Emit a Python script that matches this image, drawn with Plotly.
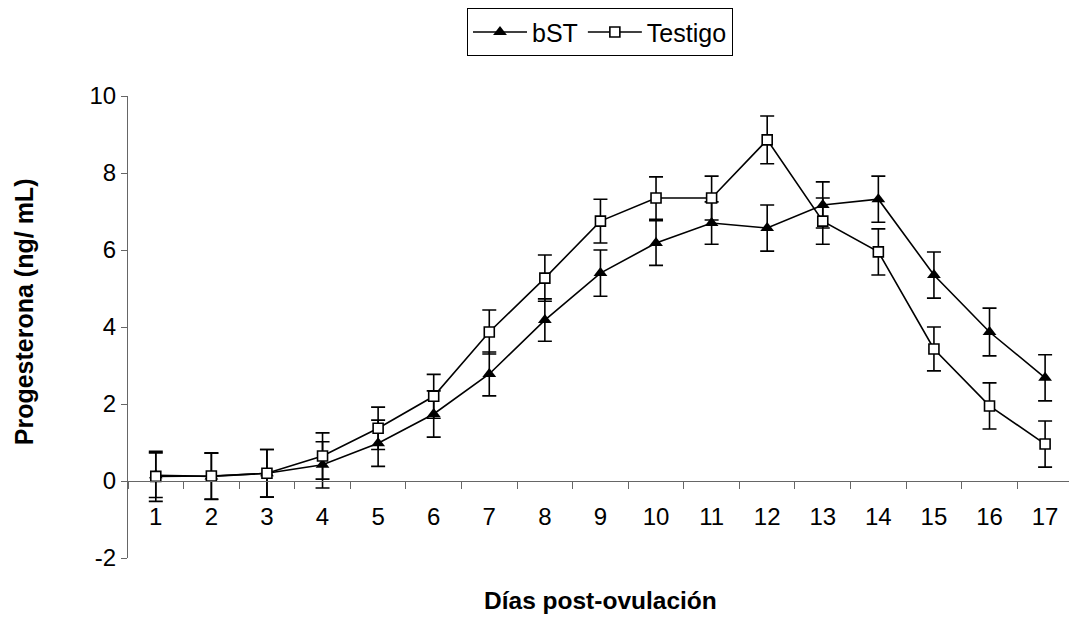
import plotly.graph_objects as go

days = [str(d) for d in range(1, 18)]

bst_mean = [0.15, 0.12, 0.20, 0.42, 0.98, 1.74, 2.78, 4.18, 5.40, 6.18, 6.70, 6.57, 7.17, 7.32, 5.35, 3.87, 2.68]
bst_err = [0.58, 0.60, 0.62, 0.60, 0.60, 0.60, 0.57, 0.55, 0.60, 0.58, 0.55, 0.60, 0.60, 0.60, 0.60, 0.62, 0.60]

testigo_mean = [0.12, 0.13, 0.20, 0.65, 1.37, 2.20, 3.87, 5.27, 6.75, 7.35, 7.35, 8.86, 6.75, 5.95, 3.43, 1.95, 0.96]
testigo_err = [0.65, 0.60, 0.62, 0.60, 0.55, 0.57, 0.57, 0.60, 0.57, 0.55, 0.57, 0.62, 0.60, 0.60, 0.57, 0.60, 0.60]

y_ticks = [-2, 0, 2, 4, 6, 8, 10]
y_tick_labels = ["-2", "0", "2", "4", "6", "8", "10"]

FONT = "Liberation Sans, Arial, sans-serif"

fig = go.Figure()
fig.add_trace(go.Scatter(
    x=days, y=bst_mean, name="bST", mode="lines+markers",
    line=dict(color="black", width=1.6),
    marker=dict(symbol="triangle-up", size=12, color="black"),
    error_y=dict(type="data", array=bst_err, visible=True, color="black", thickness=1.6, width=7),
))
fig.add_trace(go.Scatter(
    x=days, y=testigo_mean, name="Testigo", mode="lines+markers",
    line=dict(color="black", width=1.6),
    marker=dict(symbol="square", size=10, color="white", line=dict(color="black", width=1.6)),
    error_y=dict(type="data", array=testigo_err, visible=True, color="black", thickness=1.6, width=7),
))

fig.update_layout(
    width=1069, height=621,
    margin=dict(l=128, r=0, t=96, b=63),
    paper_bgcolor="white", plot_bgcolor="white",
    font=dict(family=FONT, size=24, color="black"),
    showlegend=True,
    legend=dict(
        orientation="h", x=0.5016, xanchor="center", y=1.19, yanchor="top",
        bordercolor="black", borderwidth=1, font=dict(size=25),
        itemwidth=54, tracegroupgap=0,
    ),
    xaxis=dict(
        type="category", range=[-0.5, 16.43],
        anchor="free", position=2 / 12,
        showline=True, linecolor="#666666", linewidth=1,
        ticks="outside", tickson="boundaries", ticklen=7, tickcolor="#666666",
        ticklabelstandoff=14,
        showgrid=False, zeroline=False,
        tickfont=dict(size=24),
    ),
    yaxis=dict(
        range=[-2, 10], tickvals=y_ticks, ticktext=y_tick_labels, domain=[0, 1],
        showline=True, linecolor="#666666", linewidth=1,
        ticks="outside", ticklen=6, tickcolor="#666666",
        showgrid=False, zeroline=False,
        tickfont=dict(size=24),
    ),
    annotations=[
        dict(text="<b>Días post-ovulación</b>", xref="paper", yref="paper",
             x=0.5016, y=-0.093, xanchor="center", yanchor="middle",
             showarrow=False, font=dict(size=24.5)),
        dict(text="<b>Progesterona (ng/ mL)</b>", xref="paper", yref="paper",
             x=-0.1105, y=0.532, xanchor="center", yanchor="middle", textangle=-90,
             showarrow=False, font=dict(size=25)),
    ],
)

fig.write_html("out.html")
